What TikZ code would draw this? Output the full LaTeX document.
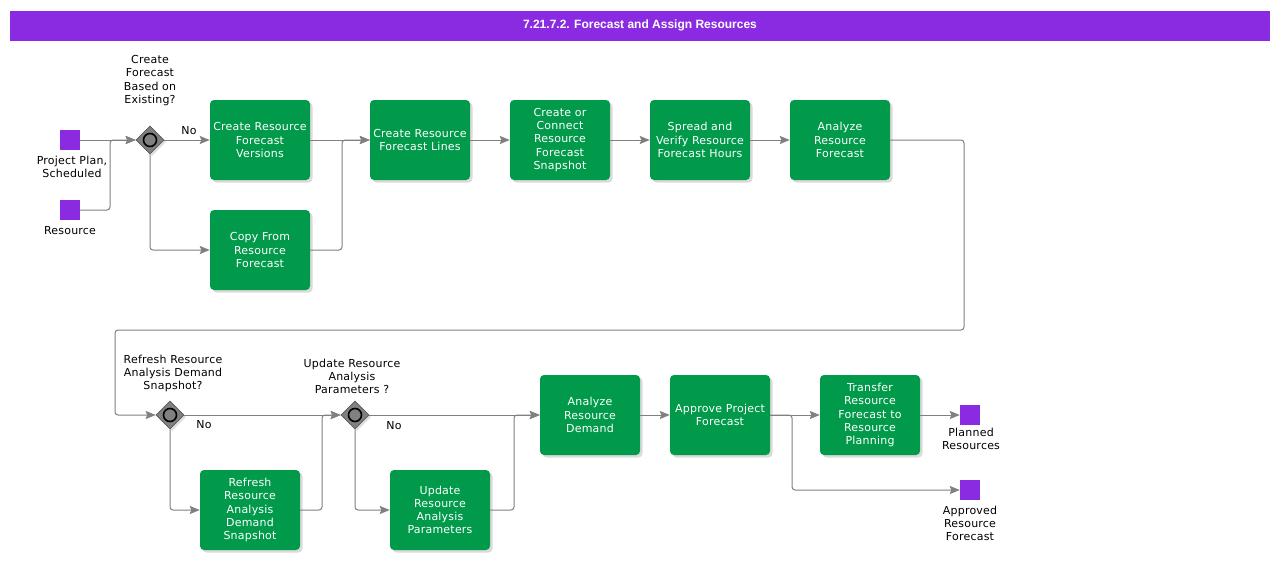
\documentclass[tikz,border=0pt]{standalone}
\usepackage{fontspec}
\setmainfont{DejaVu Sans}[LetterSpace=2.0]
\newfontfamily\titlefont{Liberation Sans}
\usetikzlibrary{shapes.geometric,arrows.meta,shadows}
\definecolor{grn}{HTML}{009A4A}
\definecolor{purp}{HTML}{8A2BE2}
\definecolor{conn}{HTML}{808080}
\tikzset{
  task/.style={rectangle, rounded corners=4pt, fill=grn, text=white, minimum width=100pt, minimum height=80pt, align=center, inner sep=1pt, font=\fontsize{11}{13.2}\selectfont, drop shadow={shadow xshift=2.5pt,shadow yshift=-2.5pt,fill=black!28}},
  gate/.style={diamond, fill=black!50, draw=black!65, line width=0.6pt, minimum width=28pt, minimum height=28pt, inner sep=0pt, drop shadow={shadow xshift=2pt,shadow yshift=-2pt,fill=black!25}},
  gring/.style={circle, draw=black, line width=1.6pt, fill=black!50, minimum size=13pt, inner sep=0pt},
  dataobj/.style={rectangle, fill=purp, minimum size=20pt, inner sep=0pt},
  lbl/.style={align=center, font=\fontsize{11}{13.2}\selectfont, text=black, inner sep=0pt},
  flow/.style={draw=conn, line width=1pt, rounded corners=3pt, -{Stealth[length=10pt,width=8pt,inset=1.5pt]}},
  plain/.style={draw=conn, line width=1pt, rounded corners=3pt}
}
\begin{document}
\begin{tikzpicture}[x=1pt,y=-1pt]
\useasboundingbox (0,0) rectangle (1280,560);
\fill[white] (0,0) rectangle (1280,560);
% title
\node[fill=purp, minimum width=1260pt, minimum height=30pt, inner sep=0pt, text=white, font=\titlefont\bfseries\fontsize{12}{14}\selectfont] (title) at (640,25.5) {7.21.7.2. Forecast and Assign Resources};

% data objects
\node[dataobj] (pp) at (70,140) {};
\node[lbl] (ppl) at (72,167) {Project Plan,\\Scheduled};
\node[dataobj] (res) at (70,210) {};
\node[lbl] (resl) at (70,230.5) {Resource};
\node[dataobj] (pr) at (970,415) {};
\node[lbl] (prl) at (971,439) {Planned\\Resources};
\node[dataobj] (arf) at (970,490) {};
\node[lbl] (arfl) at (970,523.5) {Approved\\Resource\\Forecast};

% gateways
\node[gate] (gw1) at (150,140) {};
\node[gring] (gw1c) at (gw1) {};
\node[lbl] (gw1l) at (150,80.5) {Create\\Forecast\\Based on\\Existing?};
\node[gate] (gw2) at (170,415) {};
\node[gring] (gw2c) at (gw2) {};
\node[lbl] (gw2l) at (173,373.5) {Refresh Resource\\Analysis Demand\\Snapshot?};
\node[gate] (gw3) at (355,415) {};
\node[gring] (gw3c) at (gw3) {};
\node[lbl] (gw3l) at (352,376.5) {Update Resource\\Analysis\\Parameters ?};

\node[lbl] (no1) at (189,130.5) {No};
\node[lbl] (no2) at (204,424.5) {No};
\node[lbl] (no3) at (394,425.5) {No};

% tasks row 1
\node[task] (cv) at (260,140) {Create Resource\\Forecast\\Versions};
\node[task] (cf) at (260,250) {Copy From\\Resource\\Forecast};
\node[task] (cl) at (420,140) {Create Resource\\Forecast Lines};
\node[task] (cs) at (560,140) {Create or\\Connect\\Resource\\Forecast\\Snapshot};
\node[task] (sv) at (700,140) {Spread and\\Verify Resource\\Forecast Hours};
\node[task] (af) at (840,140) {Analyze\\Resource\\Forecast};
% tasks row 2
\node[task] (rr) at (250,510) {Refresh\\Resource\\Analysis\\Demand\\Snapshot};
\node[task] (up) at (440,510) {Update\\Resource\\Analysis\\Parameters};
\node[task] (ad) at (590,415) {Analyze\\Resource\\Demand};
\node[task] (ap) at (720,415) {Approve Project\\Forecast};
\node[task] (tr) at (870,415) {Transfer\\Resource\\Forecast to\\Resource\\Planning};

% junction coordinates
\coordinate (j1) at (110,140);
\coordinate (j2) at (342,140);
\coordinate (c1) at (964,330);
\coordinate (c2) at (115,330);
\coordinate (j3) at (322,415);
\coordinate (j4) at (514,415);
\coordinate (j5) at (792,490);

% connectors
\draw[flow] (pp.east) -- (gw1.west);
\draw[flow] (res.east) -| (j1) -- (gw1.west);
\draw[flow] (gw1.east) -- (cv.west);
\draw[flow] (gw1.south) |- (cf.west);
\draw[flow] (cv.east) -- (cl.west);
\draw[flow] (cf.east) -| (j2) -- (cl.west);
\draw[flow] (cl.east) -- (cs.west);
\draw[flow] (cs.east) -- (sv.west);
\draw[flow] (sv.east) -- (af.west);
\draw[flow] (af.east) -| (c1) -- (c2) |- (gw2.west);
\draw[flow] (gw2.east) -- (gw3.west);
\draw[flow] (gw2.south) |- (rr.west);
\draw[flow] (rr.east) -| (j3) -- (gw3.west);
\draw[flow] (gw3.east) -- (ad.west);
\draw[flow] (gw3.south) |- (up.west);
\draw[flow] (up.east) -| (j4) -- (ad.west);
\draw[flow] (ad.east) -- (ap.west);
\draw[flow] (ap.east) -- (tr.west);
\draw[flow] (ap.east) -| (j5) -- (arf.west);
\draw[flow] (tr.east) -- (pr.west);
\end{tikzpicture}
\end{document}
